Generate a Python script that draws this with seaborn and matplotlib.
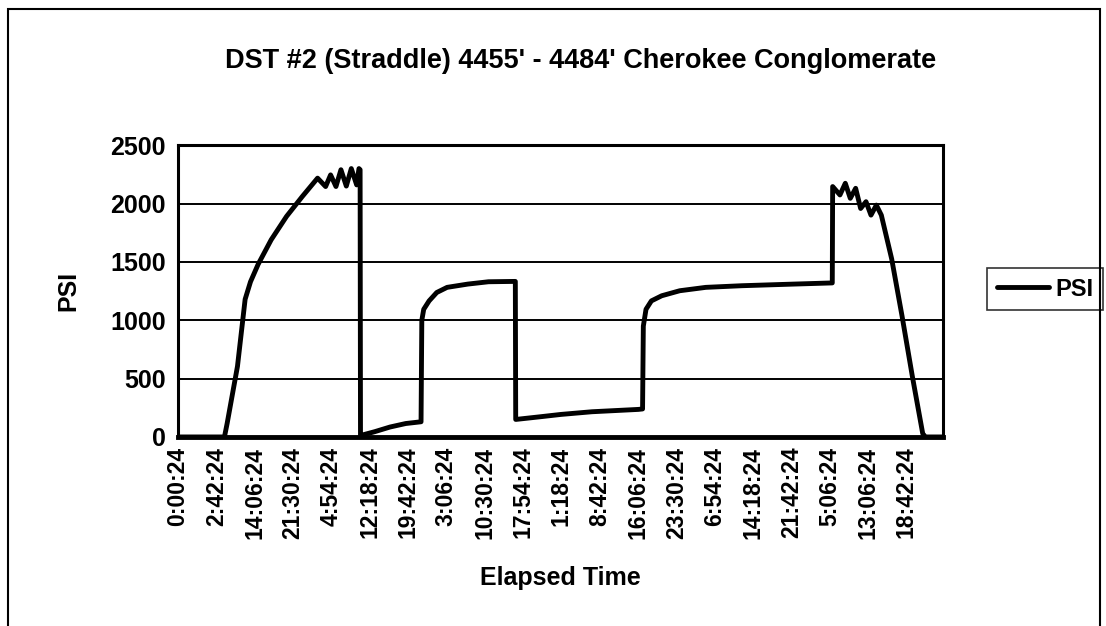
import matplotlib
matplotlib.use("Agg")
import matplotlib.pyplot as plt
import numpy as np
import pandas as pd
import seaborn as sns
from matplotlib.patches import Rectangle

# elapsed position in tick-label intervals, and pressure
elapsed = [0, 1.21, 1.28, 1.55, 1.75, 1.89, 2.09, 2.43, 2.83, 3.24, 3.64,
           3.85, 3.98, 4.12, 4.25, 4.39, 4.52, 4.66, 4.72, 4.75, 4.76,
           4.79, 5.13, 5.53, 5.94, 6.34, 6.36, 6.41, 6.55, 6.75, 7.02,
           7.56, 8.10, 8.80, 8.81, 9.45, 9.99, 10.80, 12.01, 12.12, 12.14,
           12.21, 12.35, 12.62, 13.09, 13.77, 14.71, 16.06, 17.07, 17.08,
           17.27, 17.41, 17.54, 17.68, 17.81, 17.95, 18.08, 18.22, 18.35,
           18.62, 18.89, 19.16, 19.43, 19.50, 19.97]
psi = [0, 0, 115, 605, 1180, 1330, 1480, 1690, 1890, 2060, 2218,
       2146, 2246, 2146, 2290, 2150, 2300, 2160, 2300, 2290, 10,
       15, 45, 85, 115, 130, 1000, 1094, 1166, 1238, 1282,
       1310, 1330, 1333, 150, 173, 193, 216, 236, 240, 950,
       1094, 1166, 1210, 1253, 1282, 1296, 1310, 1320, 2146,
       2074, 2174, 2045, 2131, 1958, 2016, 1901, 1987, 1901,
       1526, 1037, 518, 29, 0, 0]

tick_labels = ["0:00:24", "2:42:24", "14:06:24", "21:30:24", "4:54:24",
               "12:18:24", "19:42:24", "3:06:24", "10:30:24", "17:54:24",
               "1:18:24", "8:42:24", "16:06:24", "23:30:24", "6:54:24",
               "14:18:24", "21:42:24", "5:06:24", "13:06:24", "18:42:24"]

df = pd.DataFrame({"elapsed": elapsed, "PSI": psi})

sns.set_style("white")
plt.rcParams["font.family"] = ["Liberation Sans", "DejaVu Sans"]
plt.rcParams["font.weight"] = "bold"
plt.rcParams["text.color"] = "black"
plt.rcParams["xtick.color"] = "black"
plt.rcParams["ytick.color"] = "black"
plt.rcParams["axes.labelcolor"] = "black"

fig = plt.figure(figsize=(11.06, 6.26), dpi=100)
ax = fig.add_axes([0.161, 0.302, 0.692, 0.466])

sns.lineplot(data=df, x="elapsed", y="PSI", color="black", linewidth=3.5,
             estimator=None, sort=False, label="PSI", ax=ax)

ax.set_xlim(0, 19.97)
ax.set_ylim(0, 2500)
ax.set_yticks(range(0, 2501, 500))
ax.set_xticks(range(len(tick_labels)))
ax.set_xticklabels(tick_labels, rotation=90, fontsize=16.5, fontweight="bold")
ax.tick_params(axis="y", labelsize=18, length=0, pad=9)
ax.tick_params(axis="x", length=3, width=1.2, color="black", pad=4)
for t in ax.get_yticklabels():
    t.set_fontweight("bold")
ax.grid(axis="y", color="black", linewidth=1.4)
ax.grid(axis="x", visible=False)
for s in ax.spines.values():
    s.set_visible(True)
    s.set_color("black")
    s.set_linewidth(2.2)
ax.spines["bottom"].set_linewidth(3.5)

ax.set_xlabel("Elapsed Time", fontsize=18, fontweight="bold", labelpad=20)
ax.set_ylabel("PSI", fontsize=18, fontweight="bold", labelpad=21)
fig.text(0.525, 0.902, "DST #2 (Straddle) 4455' - 4484' Cherokee Conglomerate",
         ha="center", va="center", fontsize=19.5, fontweight="bold")

ax.legend(loc="center left", bbox_to_anchor=(0.882, 0.538),
          bbox_transform=fig.transFigure, frameon=True, fancybox=False,
          edgecolor="black", fontsize=17, handlelength=2.2,
          borderpad=0.4, handletextpad=0.3)
leg = ax.get_legend()
leg.get_frame().set_linewidth(1.2)
for t in leg.get_texts():
    t.set_fontweight("bold")
    t.set_color("black")

fig.patches.append(Rectangle((0.007, -0.02), 0.988, 1.006, transform=fig.transFigure,
                             fill=False, edgecolor="black", linewidth=1.5))

fig.savefig("out.png", dpi=100)
